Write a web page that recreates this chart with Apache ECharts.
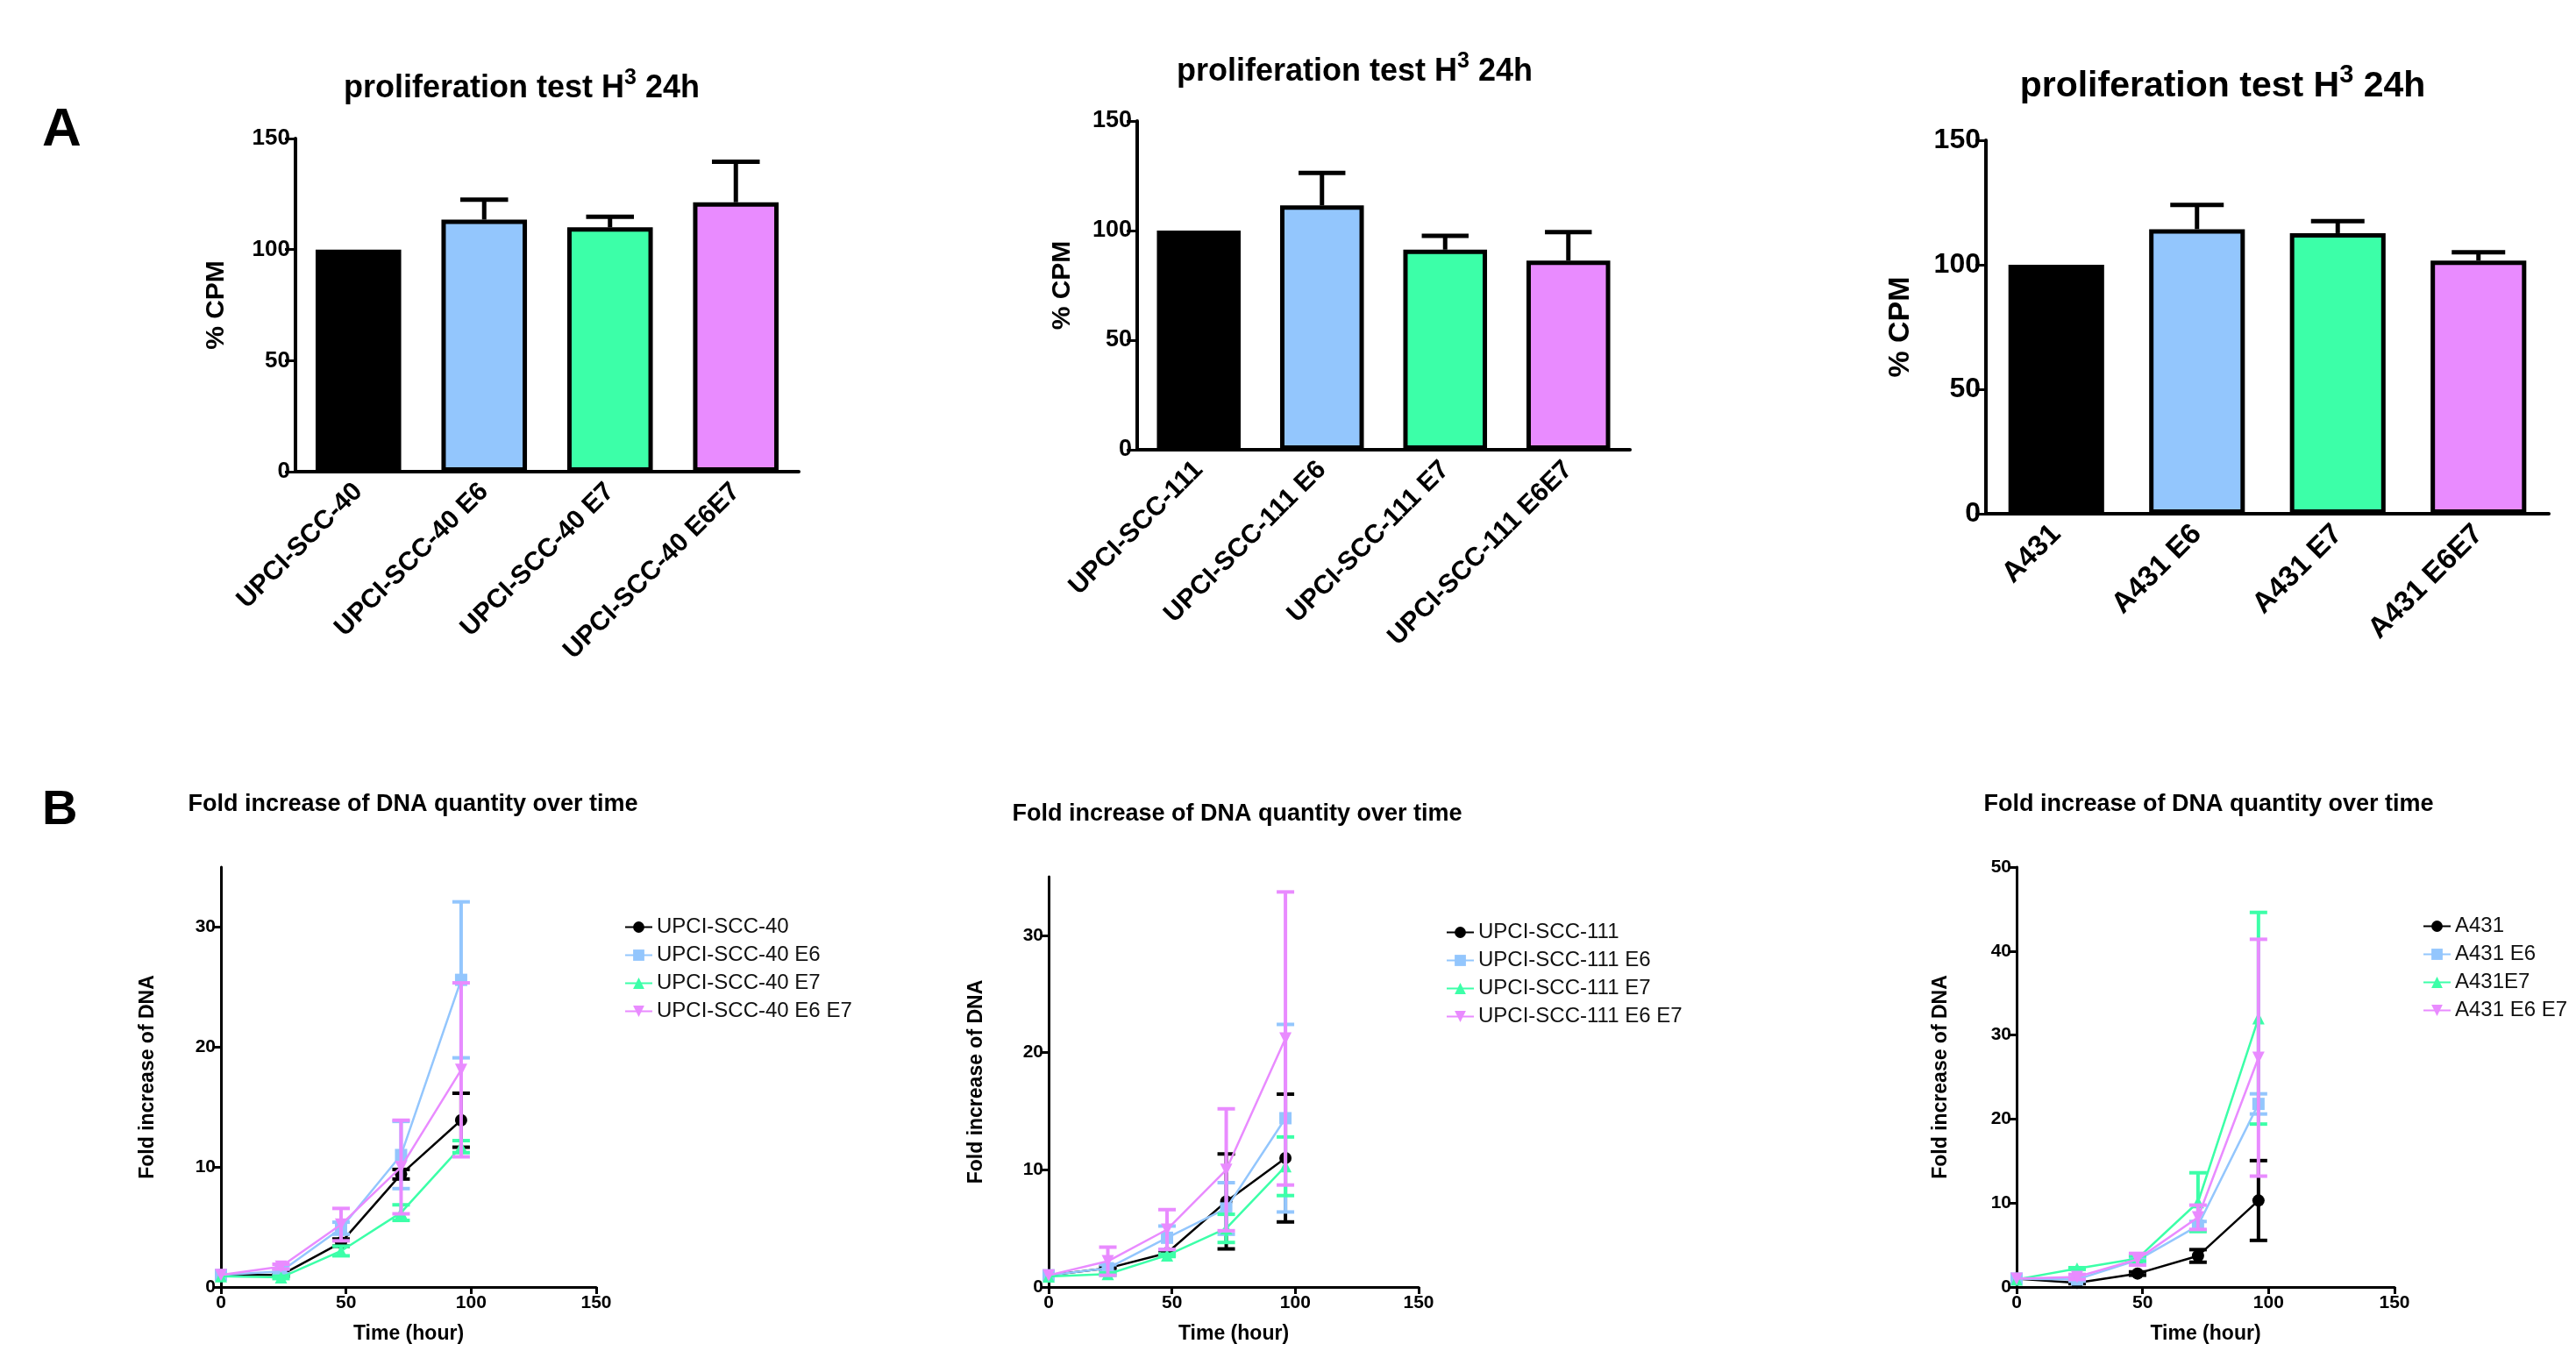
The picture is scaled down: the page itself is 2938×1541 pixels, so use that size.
<!DOCTYPE html>
<html>
<head>
<meta charset="utf-8">
<script src="https://cdn.jsdelivr.net/npm/echarts@6/dist/echarts.min.js"></script>
<style>html,body{margin:0;padding:0;background:#fff}#c{width:2938px;height:1541px}</style>
</head>
<body>
<div id="c"></div>
<script>
// ---------- DATA ----------
const barYTicks = [0, 50, 100, 150];
const a1Categories = ['UPCI-SCC-40', 'UPCI-SCC-40 E6', 'UPCI-SCC-40 E7', 'UPCI-SCC-40 E6E7'];
const a1Values = [100, 113.5, 110, 121.3];
const a1Errors = [0, 9, 4.8, 18.2];
const a2Categories = ['UPCI-SCC-111', 'UPCI-SCC-111 E6', 'UPCI-SCC-111 E7', 'UPCI-SCC-111 E6E7'];
const a2Values = [100, 111.5, 91.3, 86.3];
const a2Errors = [0, 14.8, 6.3, 13];
const a3Categories = ['A431', 'A431 E6', 'A431 E7', 'A431 E6E7'];
const a3Values = [100, 114.3, 112.7, 101.7];
const a3Errors = [0, 9.7, 4.8, 3.3];

const timeHours = [0, 24, 48, 72, 96];
const timeTicks = [0, 50, 100, 150];
const foldTicks35 = [0, 10, 20, 30];
const foldTicks50 = [0, 10, 20, 30, 40, 50];

const b1Names = ['UPCI-SCC-40', 'UPCI-SCC-40 E6', 'UPCI-SCC-40 E7', 'UPCI-SCC-40 E6 E7'];
const b1Black = [1.0, 1.0, 3.7, 9.4, 13.9];
const b1BlackErr = [0, 0.1, 0.3, 0.4, 2.25];
const b1Blue = [1.0, 1.3, 4.9, 11.0, 25.6];
const b1BlueErr = [0, 0.2, 0.5, 2.8, 6.5];
const b1Green = [0.9, 0.8, 3.0, 6.2, 11.7];
const b1GreenErr = [0, 0.1, 0.4, 0.65, 0.5];
const b1Pink = [1.0, 1.7, 5.2, 10.0, 18.1];
const b1PinkErr = [0, 0.2, 1.35, 3.9, 7.25];

const b2Names = ['UPCI-SCC-111', 'UPCI-SCC-111 E6', 'UPCI-SCC-111 E7', 'UPCI-SCC-111 E6 E7'];
const b2Black = [1.0, 1.6, 2.9, 7.3, 11.0];
const b2BlackErr = [0, 0.1, 0.2, 4.05, 5.45];
const b2Blue = [1.0, 1.6, 4.2, 6.7, 14.4];
const b2BlueErr = [0, 0.3, 1.0, 2.2, 8.0];
const b2Green = [0.9, 1.1, 2.7, 5.0, 10.3];
const b2GreenErr = [0, 0.1, 0.1, 1.2, 2.5];
const b2Pink = [1.0, 2.2, 4.9, 10.0, 21.2];
const b2PinkErr = [0, 1.2, 1.7, 5.2, 12.5];

const b3Names = ['A431', 'A431 E6', 'A431E7', 'A431 E6 E7'];
const b3Black = [1.0, 0.5, 1.6, 3.7, 10.3];
const b3BlackErr = [0, 0.1, 0.2, 0.75, 4.75];
const b3Blue = [1.0, 0.9, 3.2, 7.3, 21.8];
const b3BlueErr = [0, 0.2, 0.3, 0.5, 1.2];
const b3Green = [0.9, 2.2, 3.4, 10.1, 32.0];
const b3GreenErr = [0, 0.1, 0.3, 3.5, 12.6];
const b3Pink = [1.0, 1.2, 3.3, 8.3, 27.3];
const b3PinkErr = [0, 0.3, 0.7, 1.45, 14.1];

// ---------- STYLE ----------
const F = '"Liberation Sans", Arial, Helvetica, sans-serif';
const palette = ['#000000', '#93c6fd', '#3cffa8', '#e98bff'];
const symbols = ['circle', 'rect', 'triangle', 'triangle'];
const symbolRot = [0, 0, 0, 180];

const chart = echarts.init(document.getElementById('c'), null, {renderer: 'canvas'});

const grids = [];
const xAxes = [];
const yAxes = [];
const series = [];
const titles = [];
const legends = [];

// ---------- A panels (bars) ----------
const barPanels = [
  {cats: a1Categories, vals: a1Values, errs: a1Errors, grid: {left: 337, top: 158, width: 574, height: 380},
   tickFont: 26, catFont: 30, nameFont: 30, nameGap: 75, title: {x: 590, y: 72, size: 36}},
  {cats: a2Categories, vals: a2Values, errs: a2Errors, grid: {left: 1297, top: 138, width: 562, height: 375},
   tickFont: 27, catFont: 30, nameFont: 30, nameGap: 70, title: {x: 1540, y: 53, size: 36}},
  {cats: a3Categories, vals: a3Values, errs: a3Errors, grid: {left: 2265, top: 160, width: 642, height: 426},
   tickFont: 32, catFont: 33, nameFont: 34, nameGap: 80, title: {x: 2530, y: 66, size: 41}}
];

barPanels.forEach((p, i) => {
  grids.push(p.grid);
  xAxes.push({
    type: 'category', gridIndex: grids.length - 1, data: p.cats,
    axisLine: {lineStyle: {color: '#000', width: 4}},
    axisTick: {alignWithLabel: true, length: 12, lineStyle: {color: '#000', width: 3}},
    axisLabel: {rotate: 45, fontSize: p.catFont, fontWeight: 'bold', fontFamily: F, color: '#000', margin: 18, interval: 0}
  });
  yAxes.push({
    type: 'value', gridIndex: grids.length - 1, min: 0, max: 150, interval: 50,
    name: '% CPM', nameLocation: 'middle', nameGap: p.nameGap,
    nameTextStyle: {fontSize: p.nameFont, fontWeight: 'bold', fontFamily: F, color: '#000'},
    axisLine: {show: true, lineStyle: {color: '#000', width: 4}},
    axisTick: {show: true, length: 12, lineStyle: {color: '#000', width: 3}},
    axisLabel: {fontSize: p.tickFont, fontWeight: 'bold', fontFamily: F, color: '#000', margin: 6,
                customValues: barYTicks},
    splitLine: {show: false}
  });
  const ax = xAxes.length - 1;
  series.push({
    type: 'bar', name: 'bars' + i, xAxisIndex: ax, yAxisIndex: ax, barWidth: '68%',
    data: p.vals.map((v, k) => ({value: v, itemStyle: {color: palette[k]}})),
    itemStyle: {borderColor: '#000', borderWidth: 5},
    z: 2, silent: true
  });
  series.push({
    type: 'custom', name: 'barerr' + i, xAxisIndex: ax, yAxisIndex: ax, z: 3, silent: true,
    data: p.vals.map((v, k) => [k, v, p.errs[k]]),
    encode: {x: 0, y: 1},
    renderItem: function (params, api) {
      const e = api.value(2);
      if (!e) return;
      const b = api.coord([api.value(0), api.value(1)]);
      const t = api.coord([api.value(0), api.value(1) + e]);
      const cw = api.size([1, 0])[0] * 0.38;
      const st = {stroke: '#000', lineWidth: 5};
      return {type: 'group', children: [
        {type: 'line', shape: {x1: b[0], y1: b[1], x2: t[0], y2: t[1]}, style: st},
        {type: 'line', shape: {x1: t[0] - cw / 2, y1: t[1], x2: t[0] + cw / 2, y2: t[1]}, style: st}
      ]};
    }
  });
  titles.push({text: 'proliferation test H{s|3} 24h', left: p.title.x, top: p.title.y, textAlign: 'center',
    textStyle: {fontSize: p.title.size, fontWeight: 'bold', fontFamily: F, color: '#000', lineHeight: Math.round(p.title.size * 1.35),
      rich: {s: {fontSize: Math.round(p.title.size * 0.7), fontWeight: 'bold', fontFamily: F, color: '#000', verticalAlign: 'top'}}}});
});

// ---------- B panels (growth curves) ----------
const linePanels = [
  {names: b1Names, means: [b1Black, b1Blue, b1Green, b1Pink], errs: [b1BlackErr, b1BlueErr, b1GreenErr, b1PinkErr],
   grid: {left: 252, top: 989, width: 428, height: 479}, ymax: 35, yticks: foldTicks35, nameGap: 72,
   title: {x: 466, y: 899}, legend: {x: 707, y: 1040}},
  {names: b2Names, means: [b2Black, b2Blue, b2Green, b2Pink], errs: [b2BlackErr, b2BlueErr, b2GreenErr, b2PinkErr],
   grid: {left: 1196, top: 1000, width: 422, height: 468}, ymax: 35, yticks: foldTicks35, nameGap: 71,
   title: {x: 1406, y: 910}, legend: {x: 1644, y: 1046}},
  {names: b3Names, means: [b3Black, b3Blue, b3Green, b3Pink], errs: [b3BlackErr, b3BlueErr, b3GreenErr, b3PinkErr],
   grid: {left: 2300, top: 989, width: 431, height: 479}, ymax: 50, yticks: foldTicks50, nameGap: 75,
   title: {x: 2514, y: 899}, legend: {x: 2758, y: 1039}}
];

linePanels.forEach((p, i) => {
  grids.push(p.grid);
  const gi = grids.length - 1;
  xAxes.push({
    type: 'value', gridIndex: gi, min: 0, max: 150, interval: 50,
    name: 'Time (hour)', nameLocation: 'middle', nameGap: 42,
    nameTextStyle: {fontSize: 23, fontWeight: 'bold', fontFamily: F, color: '#000'},
    axisLine: {show: true, onZero: false, lineStyle: {color: '#000', width: 3}},
    axisTick: {show: true, length: 8, lineStyle: {color: '#000', width: 3}, customValues: timeTicks},
    axisLabel: {fontSize: 21, fontWeight: 'bold', fontFamily: F, color: '#000', margin: 8, customValues: timeTicks},
    splitLine: {show: false}
  });
  yAxes.push({
    type: 'value', gridIndex: gi, min: 0, max: p.ymax, interval: 10,
    name: 'Fold increase of DNA', nameLocation: 'middle', nameGap: p.nameGap,
    nameTextStyle: {fontSize: 23, fontWeight: 'bold', fontFamily: F, color: '#000'},
    axisLine: {show: true, onZero: false, lineStyle: {color: '#000', width: 3}},
    axisTick: {show: true, length: 8, lineStyle: {color: '#000', width: 3}, customValues: p.yticks},
    axisLabel: {fontSize: 21, fontWeight: 'bold', fontFamily: F, color: '#000', margin: 6, customValues: p.yticks},
    splitLine: {show: false}
  });
  const ax = xAxes.length - 1;
  p.names.forEach((nm, k) => {
    const col = palette[k];
    series.push({
      type: 'custom', name: nm + ' SD', xAxisIndex: ax, yAxisIndex: ax, z: 2 + k * 2, silent: true,
      data: timeHours.map((t, j) => [t, p.means[k][j], p.errs[k][j]]),
      encode: {x: 0, y: 1},
      renderItem: function (params, api) {
        const e = api.value(2);
        if (!e) return;
        const x = api.value(0), y = api.value(1);
        const t = api.coord([x, y + e]);
        const b = api.coord([x, y - e]);
        const cw = 20;
        const st = {stroke: col, lineWidth: 4};
        return {type: 'group', children: [
          {type: 'line', shape: {x1: t[0], y1: t[1], x2: b[0], y2: b[1]}, style: st},
          {type: 'line', shape: {x1: t[0] - cw / 2, y1: t[1], x2: t[0] + cw / 2, y2: t[1]}, style: st},
          {type: 'line', shape: {x1: b[0] - cw / 2, y1: b[1], x2: b[0] + cw / 2, y2: b[1]}, style: st}
        ]};
      }
    });
    series.push({
      type: 'line', name: nm, xAxisIndex: ax, yAxisIndex: ax, z: 3 + k * 2,
      data: timeHours.map((t, j) => [t, p.means[k][j]]),
      symbol: symbols[k], symbolRotate: symbolRot[k], symbolSize: 14,
      lineStyle: {color: col, width: 2.5}, itemStyle: {color: col},
      showAllSymbol: true, animation: false
    });
  });
  titles.push({text: 'Fold increase of DNA quantity over time', left: p.title.x, top: p.title.y, textAlign: 'center',
    textStyle: {fontSize: 27, fontWeight: 'bold', fontFamily: F, color: '#000'}});
  legends.push({
    data: p.names, orient: 'vertical', left: p.legend.x, top: p.legend.y,
    itemWidth: 31, itemHeight: 16, itemGap: 7,
    textStyle: {fontSize: 24, fontFamily: F, color: '#111', lineHeight: 25},
    selectedMode: false
  });
});

chart.setOption({
  backgroundColor: '#fff',
  animation: false,
  title: titles,
  legend: legends,
  grid: grids,
  xAxis: xAxes,
  yAxis: yAxes,
  series: series,
  graphic: [
    {type: 'text', left: 48, top: 118, style: {text: 'A', fontSize: 62, fontWeight: 'bold', fontFamily: F, fill: '#000'}},
    {type: 'text', left: 48, top: 897, style: {text: 'B', fontSize: 56, fontWeight: 'bold', fontFamily: F, fill: '#000'}}
  ]
});
</script>
</body>
</html>
